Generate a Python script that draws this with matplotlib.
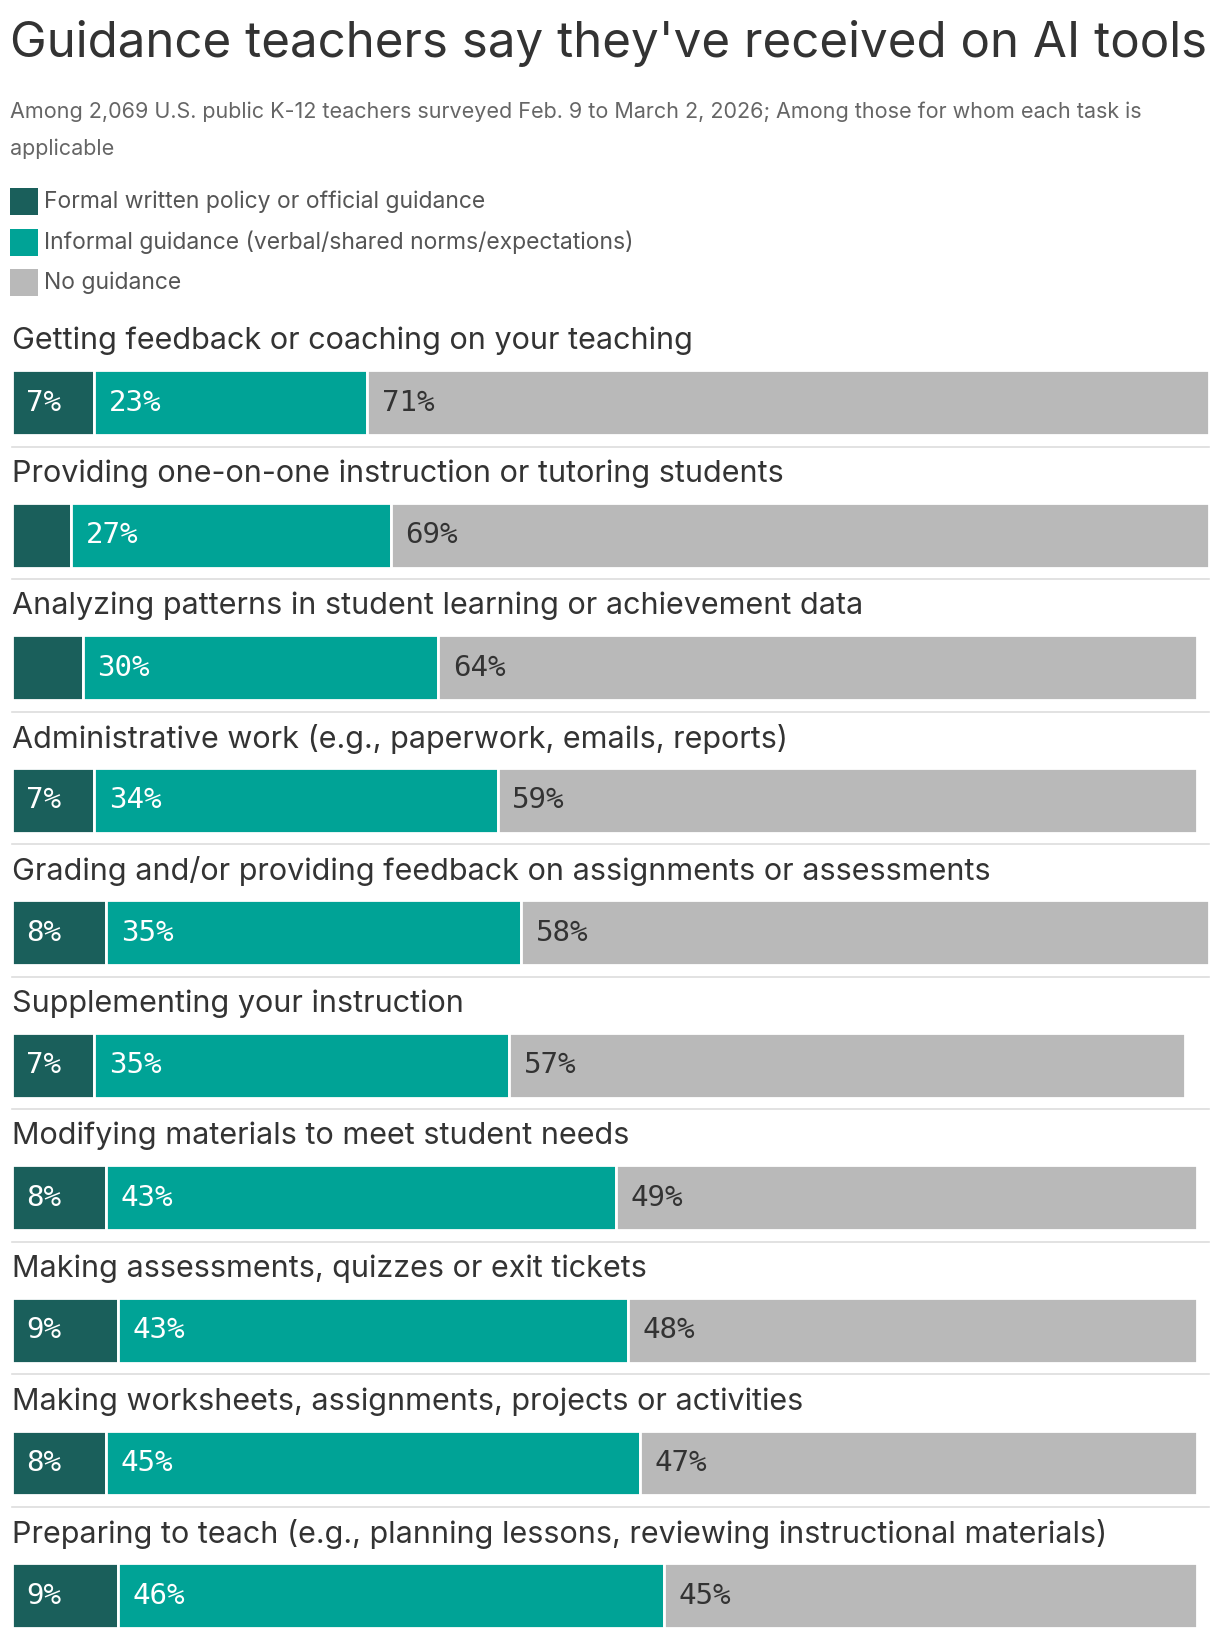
import matplotlib.pyplot as plt

tasks = [
    "Getting feedback or coaching on your teaching",
    "Providing one-on-one instruction or tutoring students",
    "Analyzing patterns in student learning or achievement data",
    "Administrative work (e.g., paperwork, emails, reports)",
    "Grading and/or providing feedback on assignments or assessments",
    "Supplementing your instruction",
    "Modifying materials to meet student needs",
    "Making assessments, quizzes or exit tickets",
    "Making worksheets, assignments, projects or activities",
    "Preparing to teach (e.g., planning lessons, reviewing instructional materials)",
]
formal = [7, 5, 6, 7, 8, 7, 8, 9, 8, 9]
informal = [23, 27, 30, 34, 35, 35, 43, 43, 45, 46]
none = [71, 69, 64, 59, 58, 57, 49, 48, 47, 45]
series = ["Formal written policy or official guidance",
          "Informal guidance (verbal/shared norms/expectations)",
          "No guidance"]
colors = ["#1a5f5b", "#00a396", "#b9b9b9"]

W, H = 1166, 1564
px = 11.33  # pixels per percent point
x0 = 11
fig = plt.figure(figsize=(12.2, 16.36), dpi=100)
ax = fig.add_axes([0, 0, 1, 1])
ax.set_xlim(-x0 / px, (W - x0) / px)
ax.set_ylim(H, 0)
ax.axis("off")
plt.rcParams["font.family"] = ["Inter", "DejaVu Sans"]
dark = "#333333"
lx = -x0 / px + 10 / px

ax.text(lx, 42, "Guidance teachers say they've received on AI tools",
        fontsize=35.5, color=dark, va="center")
ax.text(lx, 107, "Among 2,069 U.S. public K-12 teachers surveyed Feb. 9 to March 2, 2026; Among those for whom each task is",
        fontsize=15.5, color="#666666", va="center")
ax.text(lx, 142, "applicable", fontsize=15.5, color="#666666", va="center")
for i, (s, c) in enumerate(zip(series, colors)):
    y = 193 + i * 38.5
    ax.barh(y, 26 / px, left=lx, height=26, color=c)
    ax.text(-x0 / px + 42 / px, y, s, fontsize=16.5, color="#555555", va="center")

for i, t in enumerate(tasks):
    yc = 385 + i * 126.7
    ax.text(0, yc - 59, t, fontsize=22, color=dark, va="center")
    left = 0
    for j, (vals, c) in enumerate(zip([formal, informal, none], colors)):
        v = vals[i]
        ax.barh(yc, v, left=left, height=62, color=c, edgecolor="white", linewidth=2)
        if v >= 7:
            ax.text(left + 14 / px, yc, f"{v}%", fontsize=21, va="center",
                    family="DejaVu Sans Mono", color="white" if j < 2 else dark)
        left += v
    if i < len(tasks) - 1:
        ax.plot([0, 101], [yc + 42, yc + 42], color="#dddddd", lw=1.2)

fig.savefig("out.png", dpi=100)
